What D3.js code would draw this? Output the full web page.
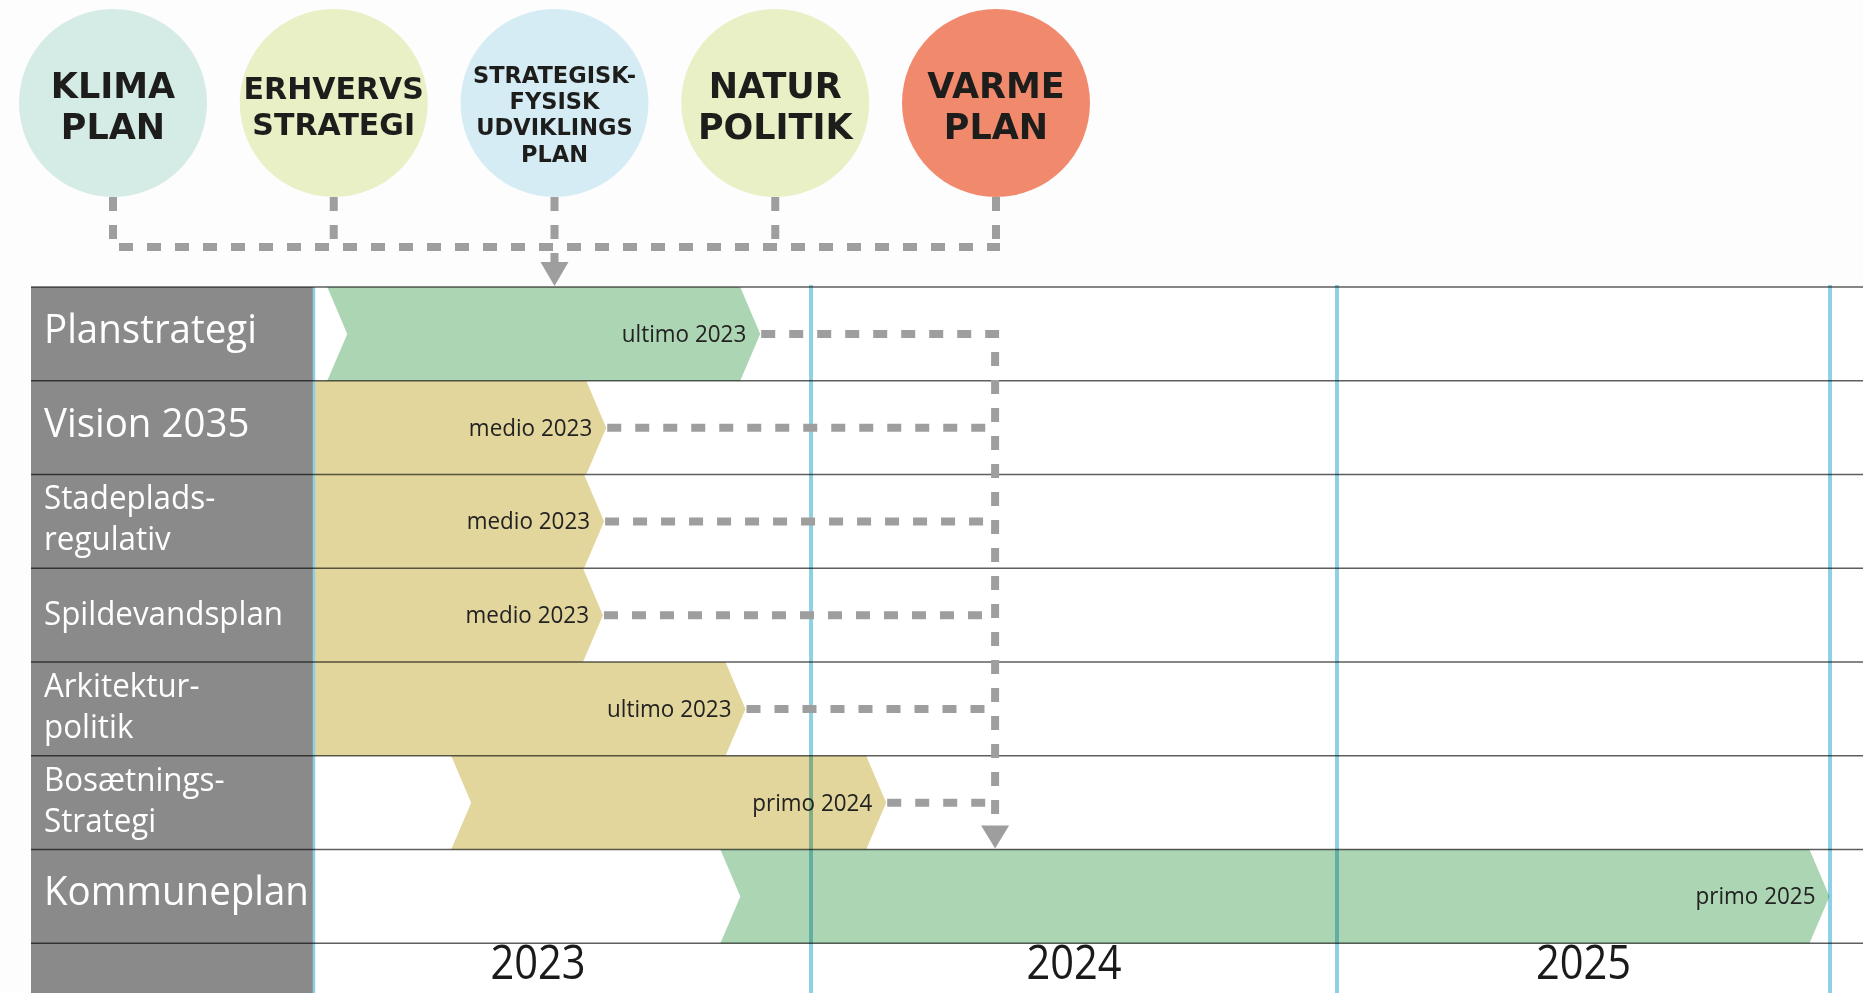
<!DOCTYPE html>
<html><head><meta charset="utf-8">
<script src="https://cdn.jsdelivr.net/npm/d3@7"></script>
<style>
html,body{margin:0;padding:0;background:#fdfdfd;}
svg{display:block;}
</style></head><body>
<svg id="chart" width="1863" height="993"></svg>
<script>
// ---------- DATA ----------
const rowNames = ["Planstrategi", "Vision 2035", "Stadeplads-|regulativ", "Spildevandsplan", "Arkitektur-|politik", "Bosætnings-|Strategi", "Kommuneplan"];
const barStart = [2023.114, 2023.0, 2023.0, 2023.0, 2023.0, 2023.341, 2023.834];
const barEnd   = [2023.907, 2023.625, 2023.621, 2023.619, 2023.880, 2024.143, 2025.999];
const barGroup = ["hoved", "tema", "tema", "tema", "tema", "tema", "hoved"];
const milestones = ["ultimo 2023", "medio 2023", "medio 2023", "medio 2023", "ultimo 2023", "primo 2024", "primo 2025"];
const yearTicks = [2023, 2024, 2025];
const yearLabels = ["2023", "2024", "2025"];
const gridYears = [2024, 2025, 2026];
const circleNames = ["KLIMA|PLAN", "ERHVERVS|STRATEGI", "STRATEGISK-|FYSISK|UDVIKLINGS|PLAN", "NATUR|POLITIK", "VARME|PLAN"];
const circleKeys = ["klima", "erhverv", "fysisk", "natur", "varme"];
const mergeYear = 2024.35;   // where the feeding plans converge into Kommuneplan

// ---------- LAYOUT ----------
const W = 1863, H = 993;
const colLeft = 31, plotLeft = 314, tableTop = 287, rowH = 93.76;
const svg = d3.select("#chart");

const x = d3.scaleLinear().domain([2023, 2024, 2025, 2026]).range([265, 811, 1337, 1830]);
const y = d3.scaleBand().domain(d3.range(rowNames.length + 1)).range([tableTop, tableTop + rowH * (rowNames.length + 1)]);
const barColor = d3.scaleOrdinal().domain(["hoved", "tema"]).range(["#acd6b3", "#e2d69c"]);
const cx = d3.scalePoint().domain(circleKeys).range([113, 996]);
const circleColor = d3.scaleOrdinal().domain(circleKeys).range(["#d5ebe6", "#e9f0c6", "#d6ecf5", "#e9f0c6", "#f1896d"]);
const cy = 103, cr = 94;
const dashColor = "#9e9e9e";

svg.append("rect").attr("width", W).attr("height", H).attr("fill", "#fdfdfd");
svg.append("rect").attr("x", plotLeft).attr("y", tableTop).attr("width", W - plotLeft).attr("height", H - tableTop).attr("fill", "#ffffff");

// ---------- BARS ----------
const d = 20;
function chevron(i) {
  const x0 = x(barStart[i]), x1 = x(barEnd[i]);
  const yt = y(i), yb = y(i) + y.bandwidth(), ym = (yt + yb) / 2;
  return [[x0, yt], [x1 - d, yt], [x1, ym], [x1 - d, yb], [x0, yb], [x0 + d, ym]];
}
svg.append("g").selectAll("polygon").data(rowNames).join("polygon")
  .attr("points", (_, i) => chevron(i).map(p => p.join(",")).join(" "))
  .attr("fill", (_, i) => barColor(barGroup[i]));

// ---------- GRID (year lines) ----------
svg.append("g").selectAll("line").data(gridYears).join("line")
  .attr("x1", v => x(v)).attr("x2", v => x(v))
  .attr("y1", tableTop - 2).attr("y2", H)
  .attr("stroke", "#8fd1e4").attr("stroke-width", 4)
  .style("mix-blend-mode", "multiply");

// ---------- LABEL COLUMN ----------
svg.append("rect").attr("x", colLeft).attr("y", tableTop).attr("width", plotLeft - colLeft).attr("height", H - tableTop).attr("fill", "#8a8a8a");
svg.append("line").attr("x1", plotLeft).attr("x2", plotLeft).attr("y1", tableTop).attr("y2", H)
  .attr("stroke", "#8fd1e4").attr("stroke-width", 2.5);

// row separators
svg.append("g").selectAll("line").data(d3.range(rowNames.length + 1)).join("line")
  .attr("x1", colLeft).attr("x2", W)
  .attr("y1", i => y(i)).attr("y2", i => y(i))
  .attr("stroke", "#5e5e5e").attr("stroke-width", 1.4)
  .style("mix-blend-mode", "multiply");

// row labels
const rowLab = svg.append("g").attr("font-family", "'Open Sans', sans-serif").attr("fill", "#ffffff");
rowNames.forEach((name, i) => {
  const lines = name.split("|");
  const big = lines.length === 1 && name.length <= 12;
  const fs = big ? 40.5 : 33;
  const mid = y(i) + y.bandwidth() / 2;
  const base = lines.length === 1 ? [mid + (big ? 9 : 10)] : [mid - 12, mid + 29];
  lines.forEach((ln, k) => {
    rowLab.append("text")
      .attr("transform", `translate(44,${base[k]}) scale(0.95,1)`)
      .attr("font-size", fs).text(ln);
  });
});

// milestone labels
svg.append("g").selectAll("text").data(milestones).join("text")
  .attr("transform", (_, i) => `translate(${x(barEnd[i]) - 14},${y(i) + y.bandwidth() / 2 + 8}) scale(0.955,1)`)
  .attr("text-anchor", "end")
  .attr("font-family", "'Open Sans', sans-serif").attr("font-size", 23.5).attr("fill", "#222")
  .text(t => t);

// ---------- CONNECTORS TO KOMMUNEPLAN ----------
const mx = x(mergeYear);
const conn = svg.append("g").attr("fill", "none").attr("stroke", dashColor).attr("stroke-width", 8).attr("stroke-dasharray", "14,14");
const lastRow = rowNames.length - 1;
const arrowTop = y(lastRow) - 24;
rowNames.slice(0, lastRow).forEach((_, i) => {
  const ym = y(i) + y.bandwidth() / 2;
  if (i === 0) {
    conn.append("path").attr("d", `M${x(barEnd[i]) + 1},${ym}H${mx}V${arrowTop}`);
  } else {
    conn.append("path").attr("d", `M${x(barEnd[i]) + 1},${ym}H${mx - 8}`);
  }
});
svg.append("path")
  .attr("d", `M${mx - 14},${arrowTop}L${mx + 14},${arrowTop}L${mx},${y(lastRow) - 1}Z`)
  .attr("fill", dashColor);

// ---------- TOP CIRCLES ----------
const hubY = 247;
const topConn = svg.append("g").attr("fill", "none").attr("stroke", dashColor).attr("stroke-width", 8).attr("stroke-dasharray", "14,14");
topConn.append("path").attr("d", `M${cx("klima") - 4},${hubY}H${cx("varme") + 4}`).attr("stroke-dashoffset", -10);
circleKeys.forEach(k => {
  if (k === "fysisk") {
    topConn.append("path").attr("d", `M${cx(k)},${cy + cr}V${tableTop - 24}`);
  } else {
    topConn.append("path").attr("d", `M${cx(k)},${cy + cr}V${hubY + 4}`);
  }
});
svg.append("path")
  .attr("d", `M${cx("fysisk") - 14},${tableTop - 25}L${cx("fysisk") + 14},${tableTop - 25}L${cx("fysisk")},${tableTop - 1}Z`)
  .attr("fill", dashColor);

svg.append("g").selectAll("circle").data(circleKeys).join("circle")
  .attr("cx", k => cx(k)).attr("cy", cy).attr("r", cr)
  .attr("fill", k => circleColor(k));

const cLab = svg.append("g").attr("font-family", "'DejaVu Sans', Verdana, sans-serif").attr("font-weight", "bold")
  .attr("fill", "#1d1d1b").attr("text-anchor", "middle");
circleNames.forEach((name, i) => {
  const lines = name.split("|");
  const maxLen = d3.max(lines, l => l.length);
  const fs = lines.length > 2 ? 22.5 : (maxLen > 7 ? 30 : 35);
  const lh = fs * 1.17;
  const cap = fs * 0.73;
  const total = (lines.length - 1) * lh + cap;
  const centre = cy + 3 + (lines.length - 2) * 4;
  const first = centre - total / 2 + cap;
  lines.forEach((ln, k) => {
    cLab.append("text").attr("x", cx(circleKeys[i])).attr("y", first + k * lh)
      .attr("font-size", fs).text(ln);
  });
});

// ---------- YEAR AXIS ----------
svg.append("g").selectAll("text").data(yearTicks).join("text")
  .attr("transform", (v) => `translate(${x(v + 0.5)},${979}) scale(0.886,1)`)
  .attr("text-anchor", "middle")
  .attr("font-family", "'Open Sans', sans-serif").attr("font-size", 47).attr("fill", "#1a1a1a")
  .text((v, i) => yearLabels[i]);
</script>
</body></html>
